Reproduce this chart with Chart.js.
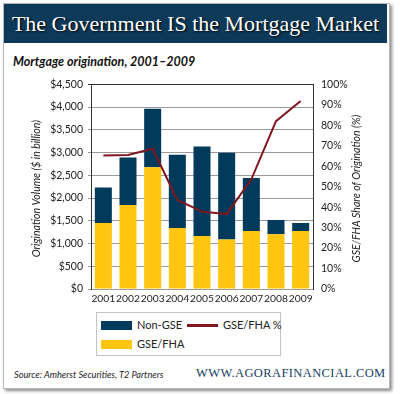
<!DOCTYPE html>
<html>
<head>
<meta charset="utf-8">
<script src="https://cdn.jsdelivr.net/npm/chart.js@4.4.0/dist/chart.umd.min.js"></script>
<style>
  html, body { margin: 0; padding: 0; background: #fff; }
  #wrap { position: relative; width: 400px; height: 394px; overflow: hidden; background: #fff; }
  #card { position: absolute; left: 3px; top: 3px; width: 385px; height: 384px; border: 1px solid #b8b8b8;
          box-shadow: 2px 2px 3px rgba(0,0,0,0.45); background: #fff; }
  #head { position: absolute; left: 4px; top: 4px; width: 383px; height: 39px; background: #0e3a5a;
          color: #fff; font: 22px "Liberation Serif", serif; text-align: center; line-height: 40px;
          text-shadow: 1px 1px 2px #000; white-space: nowrap; }
  #sub { position: absolute; left: 13px; top: 54px; font: italic bold 12.5px Lato, sans-serif; color: #111; }
  #chart { position: absolute; left: 0; top: 70px; width: 400px; height: 240px; }
  #legend { position: absolute; left: 96px; top: 312px; width: 183px; height: 42px; border: 1px solid #c4c4c4; }
  .sw { position: absolute; width: 31px; height: 9px; }
  .ln { position: absolute; width: 31px; height: 3px; }
  .lt { position: absolute; font: 11px Lato, sans-serif; color: #222; line-height: 12px; white-space: nowrap; }
  #src { position: absolute; left: 14px; top: 369px; font: italic 9.2px Lato, sans-serif; color: #222; white-space: nowrap; }
  #www { position: absolute; left: 196px; top: 366px; font: 12.5px "Liberation Serif", serif; color: #16405f;
         letter-spacing: 0.4px; white-space: nowrap; }
</style>
</head>
<body>
<div id="wrap">
  <div id="card"></div>
  <div id="head">The Government IS the Mortgage Market</div>
  <div id="sub">Mortgage origination, 2001–2009</div>
  <canvas id="chart" width="400" height="240"></canvas>
  <div id="legend"></div>
  <div id="src">Source: Amherst Securities, T2 Partners</div>
  <div id="www">WWW.AGORAFINANCIAL.COM</div>
</div>
<script>
  // values ($ billion, %)
  const years = ['2001', '2002', '2003', '2004', '2005', '2006', '2007', '2008', '2009'];
  const gseVolume    = [1450, 1848, 2674, 1341, 1167, 1087, 1276, 1202, 1276];
  const nonGseVolume = [783, 1043, 1289, 1609, 1963, 1906, 1165, 313, 174];
  const gseShare     = [65.2, 65.5, 68.5, 43.5, 37.8, 36.6, 53.6, 82, 91.8];
  const volumeTicks  = [0, 500, 1000, 1500, 2000, 2500, 3000, 3500, 4000, 4500];
  const shareTicks   = [0, 10, 20, 30, 40, 50, 60, 70, 80, 90, 100];

  const NAVY = '#023a5b';
  const GOLD = '#ffc510';
  const RED = '#7f1620';
  const TICK_FONT = { family: 'Lato', size: 10.5 };

  // rotated axis titles (right one reads bottom-to-top like the left)
  const axisTitles = {
    id: 'axisTitles',
    afterDraw(chart) {
      const { ctx, chartArea } = chart;
      const cy = (chartArea.top + chartArea.bottom) / 2;
      ctx.save();
      ctx.font = 'italic 10.5px Lato';
      ctx.fillStyle = '#222';
      ctx.textAlign = 'center';
      ctx.textBaseline = 'middle';
      [[37, 'Origination Volume ($ in billion)'], [357, 'GSE/FHA Share of Origination (%)']].forEach(([x, txt]) => {
        ctx.save();
        ctx.translate(x, cy + 2);
        ctx.rotate(-Math.PI / 2);
        ctx.fillText(txt, 0, 0);
        ctx.restore();
      });
      ctx.restore();
    }
  };

  const chart = new Chart(document.getElementById('chart'), {
    data: {
      labels: years,
      datasets: [
        { type: 'line', label: 'GSE/FHA %', data: gseShare, yAxisID: 'y1', borderColor: RED,
          backgroundColor: RED, borderWidth: 2, pointRadius: 0, tension: 0, order: 0 },
        { type: 'bar', label: 'GSE/FHA', data: gseVolume, backgroundColor: GOLD, yAxisID: 'y', order: 1 },
        { type: 'bar', label: 'Non-GSE', data: nonGseVolume, backgroundColor: NAVY, yAxisID: 'y', order: 1 },
      ],
    },
    options: {
      responsive: false, animation: false,
      layout: { padding: { top: 12, left: 0, right: 0, bottom: 0 } },
      datasets: { bar: { barPercentage: 0.69, categoryPercentage: 1 } },
      plugins: { legend: { display: false }, tooltip: { enabled: false } },
      scales: {
        x: {
          stacked: true,
          grid: { display: false, drawTicks: false },
          border: { display: false },
          ticks: { font: { family: 'Lato', size: 10.3 }, color: '#222', padding: 3, maxRotation: 0, autoSkip: false },
          afterFit: s => { s.height = 21; },
        },
        y: {
          position: 'left', stacked: true, min: 0, max: 4500,
          afterBuildTicks: s => { s.ticks = volumeTicks.map(v => ({ value: v })); },
          ticks: { font: TICK_FONT, color: '#222', padding: 5, callback: v => '$' + v.toLocaleString('en-US') },
          grid: { color: c => (c.tick && c.tick.value === 4500 ? '#333' : '#9a9a9a'), tickLength: 3, lineWidth: 1 },
          border: { color: '#333', width: 1 },
          afterFit: s => { s.width = 91; },
        },
        y1: {
          position: 'right', min: 0, max: 100,
          afterBuildTicks: s => { s.ticks = shareTicks.map(v => ({ value: v })); },
          ticks: { font: TICK_FONT, color: '#222', padding: 8, callback: v => v + '%' },
          grid: { drawOnChartArea: false, drawTicks: false, color: 'rgba(0,0,0,0)' },
          border: { color: '#333', width: 1 },
          afterFit: s => { s.width = 87; },
        },
      },
    },
    plugins: [axisTitles],
  });

  // legend box built from the chart's datasets
  const byLabel = {};
  chart.data.datasets.forEach(d => { byLabel[d.label] = d; });
  const leg = document.getElementById('legend');
  const items = [
    { label: 'Non-GSE',   x: 4,  y: 8,  kind: 'bar' },
    { label: 'GSE/FHA %', x: 90, y: 8,  kind: 'line' },
    { label: 'GSE/FHA',   x: 4,  y: 27, kind: 'bar' },
  ];
  leg.innerHTML = items.map(it => {
    const d = byLabel[it.label];
    const mark = it.kind === 'bar'
      ? `<div class="sw" style="left:${it.x}px;top:${it.y}px;background:${d.backgroundColor}"></div>`
      : `<div class="ln" style="left:${it.x}px;top:${it.y + 3}px;background:${d.borderColor}"></div>`;
    return mark + `<div class="lt" style="left:${it.x + 36}px;top:${it.y - 2}px">${it.label}</div>`;
  }).join('');
</script>
</body>
</html>
